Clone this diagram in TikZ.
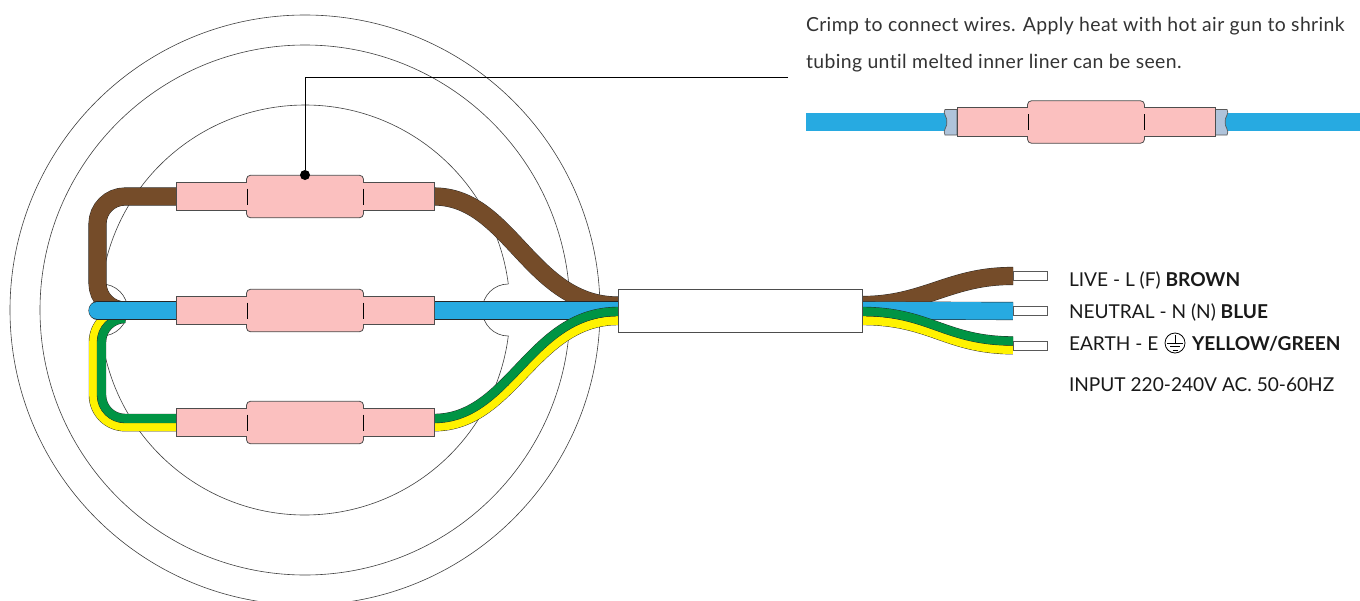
\documentclass[tikz,border=0pt]{standalone}
\usepackage{fontspec}
\setmainfont[Ligatures=NoCommon]{Lato}
\newfontfamily\topfont[LetterSpace=2.0,Ligatures=NoCommon]{Lato}
\newfontfamily\labfont[Ligatures=NoCommon]{Lato}
\definecolor{brownw}{HTML}{754C29}
\definecolor{bluew}{HTML}{27AAE1}
\definecolor{greenw}{HTML}{009444}
\definecolor{yelloww}{HTML}{FFF200}
\definecolor{tube}{HTML}{FBC0BF}
\definecolor{sleeve}{HTML}{AFC3DA}
\definecolor{edge}{HTML}{4D4D4D}
\pgfdeclarelayer{circles}
\pgfdeclarelayer{wires}
\pgfsetlayers{circles,wires,main}
\tikzset{
  x=1pt,y=-1pt,
  thinline/.style={draw=black!75,line width=0.6pt},
  tubepart/.style={draw=edge,fill=tube,line width=0.8pt,inner sep=0,outer sep=0,rectangle,minimum height=28.5pt,minimum width=71pt},
  blockpart/.style={draw=edge,fill=tube,line width=0.8pt,inner sep=0,outer sep=0,rectangle,rounded corners=4pt,minimum height=42.5pt,minimum width=117pt},
  gland/.style={draw=edge,fill=white,line width=0.8pt,inner sep=0,outer sep=0,rectangle,minimum width=244pt,minimum height=43pt},
  bare/.style={draw=black!65,fill=white,line width=0.8pt,inner sep=0,outer sep=0,rectangle,minimum width=34pt,minimum height=9pt},
  txt/.style={anchor=base west,inner sep=0,outer sep=0,font=\labfont\fontsize{19.1pt}{20pt}\selectfont,text=black!90},
  toptxt/.style={anchor=base west,inner sep=0,outer sep=0,font=\topfont\fontsize{19.4pt}{20pt}\selectfont,text=black!80},
  tick/.style={draw=black,line width=0.8pt}
}
% #1 name, #2 centre x, #3 centre y
\newcommand{\crimpset}[3]{%
  \node[tubepart] (#1-l) at (#2-93.5,#3) {};
  \node[tubepart] (#1-r) at (#2+93.5,#3) {};
  \node[blockpart] (#1-c) at (#2,#3) {};
  \fill[tube] (#2-60,#3-13.8) rectangle (#2-57,#3+13.8);
  \fill[tube] (#2+57,#3-13.8) rectangle (#2+60,#3+13.8);
  \draw[tick] (#2-58,#3-8) -- (#2-58,#3+8);
  \draw[tick] (#2+58,#3-8) -- (#2+58,#3+8);
}
% #1 path, #2 colour, #3 width
\newcommand{\wire}[3]{%
  \draw[black!85,line width=#3+0.8pt] #1;
  \draw[#2,line width=#3] #1;
}
\begin{document}
\begin{tikzpicture}
\clip (0,0) rectangle (1360,600);
% crimp sets
\crimpset{live}{305}{196.5}
\crimpset{neutral}{305}{310.5}
\crimpset{earth}{305}{422.5}
\crimpset{joined}{1086}{122}
% gland and bare ends
\node[gland] (cable) at (740,310.5) {};
\node[bare] (barel) at (1030,276) {};
\node[bare] (baren) at (1030,311) {};
\node[bare] (baree) at (1030,345.5) {};
% layer: circles
\begin{pgfonlayer}{circles}
\fill[white] (0,0) rectangle (1360,600);
\draw[thinline] (305,310) circle[radius=295];
\draw[thinline] (305,310) circle[radius=265];
\draw[thinline] (508.3,284)
  arc[start angle=-7.29,end angle=-172.71,radius=205]
  arc[start angle=-90,end angle=90,radius=26]
  arc[start angle=172.71,end angle=7.29,radius=205]
  arc[start angle=90,end angle=270,radius=26];
\end{pgfonlayer}
% layer: wires
\begin{pgfonlayer}{wires}
% brown
\wire{(618,305.5) .. controls (530,305.5) and (510,196.5) .. (live-r.east) (live-l.west) -- (125,196.5) arc[start angle=-90,end angle=-180,radius=27.5] -- (97.5,283) arc[start angle=180,end angle=90,radius=27.5]}{brownw}{17.3pt}
\wire{(862,305) .. controls (925,305) and (950,275.5) .. (barel.west)}{brownw}{17.3pt}
% yellow and green, loop behind the blue wire
\wire{([yshift=-4.2pt]earth-l.west) -- (125,426.7) arc[start angle=90,end angle=180,radius=31.5] -- (93.5,342) arc[start angle=180,end angle=270,radius=31.5]}{yelloww}{8.6pt}
\wire{([yshift=4pt]earth-l.west) -- (125,418.5) arc[start angle=90,end angle=180,radius=23.5] -- (101.5,342) arc[start angle=180,end angle=270,radius=23.5]}{greenw}{8.6pt}
% blue
\draw[black!85,line width=18.1pt,line cap=round] (97.5,310.5) -- (neutral-l.west);
\draw[bluew,line width=17.3pt,line cap=round] (97.5,310.5) -- (neutral-l.west);
\wire{(neutral-r.east) -- (cable.west)}{bluew}{17.3pt}
\wire{(cable.east) -- (baren.west)}{bluew}{17.3pt}
% yellow and green, in front of the blue wire
\wire{([yshift=-4.2pt]earth-r.east) .. controls (514,426.7) and (534,320.5) .. ([yshift=-10pt]cable.west)}{yelloww}{8.6pt}
\wire{([yshift=-10pt]cable.east) .. controls (931,320.5) and (946,349.5) .. ([yshift=-4.2pt]baree.west)}{yelloww}{8.6pt}
\wire{([yshift=4pt]earth-r.east) .. controls (510,418.5) and (530,311.5) .. ([yshift=-1pt]cable.west)}{greenw}{8.6pt}
\wire{([yshift=-1pt]cable.east) .. controls (930,311.5) and (945,341) .. ([yshift=4.5pt]baree.west)}{greenw}{8.6pt}
% top sample
\coordinate (sampleL) at (806,122);
\coordinate (sampleR) at (1360,122);
\wire{(sampleL) -- (joined-l.west)}{bluew}{17.3pt}
\wire{(joined-r.east) -- (sampleR)}{bluew}{17.3pt}
\foreach \xin/\d in {957/-12,1215/12}{
  \draw[draw=black!65,fill=sleeve,line width=0.7pt] (\xin,109.5) -- (\xin+\d,109.5)
    .. controls (\xin+\d*1.25,113) and (\xin+\d*0.75,118) .. (\xin+\d*0.85,122)
    .. controls (\xin+\d*0.75,126) and (\xin+\d*1.25,131) .. (\xin+\d,135) -- (\xin,135) -- cycle;
}
\end{pgfonlayer}
% leader
\coordinate (leaderend) at (788,77.5);
\node[circle,fill=black,inner sep=0,outer sep=0,minimum size=10pt] (dot) at (305,175) {};
\draw[black,line width=0.8pt] (leaderend) -- (305,77.5) -- (dot);
% text
\node[toptxt] (t1) at (806,31) {Crimp to connect wires. Apply heat with hot air gun to shrink};
\node[toptxt] (t2) at (806,68) {tubing until melted inner liner can be seen.};
\node[txt] (l1) at (1069,286.5) {LIVE - L (F) \textbf{BROWN}};
\node[txt] (l2) at (1069,318) {NEUTRAL - N (N) \textbf{BLUE}};
\node[txt] (l3a) at (1069,350) {EARTH - E};
\node[txt] (l3b) at (1192,350) {\textbf{YELLOW/GREEN}};
\node[txt] (l4) at (1069,391.5) {INPUT 220-240V AC. 50-60HZ};
% earth symbol
\node[circle,draw=black,line width=0.8pt,minimum size=20pt,inner sep=0] (gnd) at (1175,343) {};
\draw[black,line width=0.8pt] (1175,335) -- (1175,343)
  (1167,343) -- (1183,343) (1170,346.5) -- (1180,346.5) (1172.5,350) -- (1177.5,350);
\end{tikzpicture}
\end{document}
